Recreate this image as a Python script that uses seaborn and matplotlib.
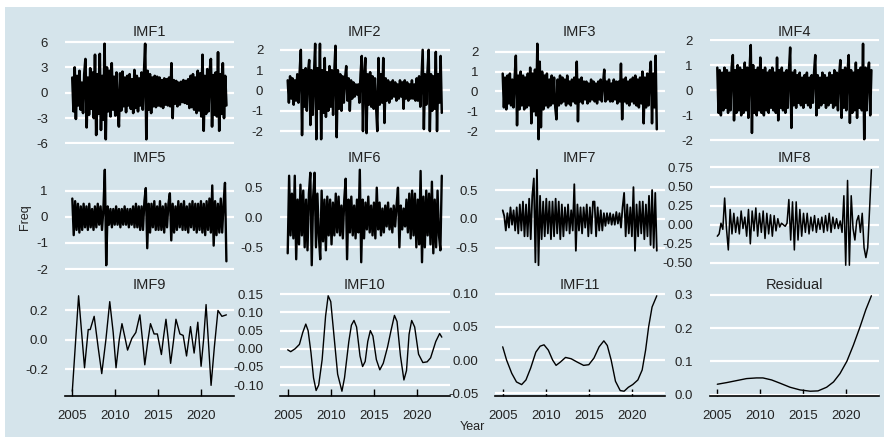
import numpy as np
import pandas as pd
import seaborn as sns
import matplotlib.pyplot as plt
from matplotlib.patches import Rectangle
from matplotlib.ticker import FixedLocator, StrMethodFormatter

import warnings
warnings.filterwarnings('ignore')

sns.set_theme(style="white")
plt.rcParams['font.family'] = ['Liberation Sans', 'DejaVu Sans']
plt.rcParams['axes.unicode_minus'] = False

BG = "#d5e4eb"
START, END = 2005.0, 2022.9

# high frequency components (evenly spaced in time)
imf1 = [1.8, -2.2, 3.0, -3.1, 2.0, -1.5, 2.6, -2.0, 1.2, -2.4,
        2.2, 4.0, -4.1, 1.8, -2.6, 2.9, -1.9, 2.4, -3.0, 4.5,
        -5.0, 2.2, -2.5, 4.6, -4.4, 2.0, -3.2, 5.8, -5.5, 3.0,
        -2.2, 2.6, -2.8, 3.5, -2.0, 1.9, -2.7, 2.4, -1.8, -4.0,
        2.3, -2.1, 2.5, -1.6, 1.8, -2.3, 2.0, -1.5, 2.2, -1.9,
        1.6, -2.4, 2.7, -1.8, 2.0, -2.2, 1.7, -1.5, 2.4, -2.0,
        2.3, 5.8, -5.5, 2.6, -2.0, 2.2, -2.4, 1.8, -1.6, 2.0,
        -1.7, 1.9, -1.5, 1.8, -1.6, 1.5, -1.8, 1.7, -1.4, 1.6,
        -1.5, 1.8, -1.6, 3.5, -3.0, 1.5, -1.3, 1.4, -1.6, 1.2,
        -1.4, 1.3, -1.1, 1.5, -1.2, 1.4, -1.3, 1.6, -1.8, 2.0,
        -1.7, 2.2, -2.0, 1.8, -2.4, 2.6, -2.1, 2.3, -2.8, 4.5,
        -4.5, 2.0, -2.5, 2.8, -2.2, 2.5, 4.0, -4.0, 2.1, -2.6,
        2.4, -2.8, 4.8, -4.5, 2.2, -2.5, 3.5, -3.0, 2.0, -1.5]

imf2 = [0.5, -0.6, 0.7, -0.4, 0.6, -0.7, 0.5, -0.5, 0.8, -0.6,
        0.9, 2.0, -2.2, 1.0, -0.8, 1.1, -1.0, 0.9, 1.5, -1.7,
        1.0, -1.2, 0.8, 2.3, -2.4, 1.1, -0.9, 2.3, -2.4, 1.0,
        -1.1, 1.6, -1.3, 0.9, -1.0, 1.2, -0.8, 1.0, -1.2, 0.9,
        2.2, -2.3, 1.0, -0.9, 0.8, -1.0, 0.7, -0.6, 0.6, 1.2,
        -0.5, 0.6, -1.0, 0.5, -0.4, 0.4, -0.3, 0.3, -0.2, 0.3,
        -0.6, 0.8, 1.7, -2.0, 0.7, 1.6, -2.1, 0.8, -0.7, 0.9,
        -0.8, 0.7, -0.9, 0.6, -0.8, -2.0, 1.6, -0.7, 0.8, -0.6,
        1.6, -1.6, 0.6, -0.5, 0.5, -0.6, 0.4, -0.4, 0.5, -0.3,
        0.4, -0.5, 0.3, -0.4, 0.5, -0.3, 0.4, -0.9, 0.5, -0.4,
        0.4, -0.5, 0.3, -0.4, 0.5, -0.4, 0.3, -0.5, 0.6, -0.5,
        0.7, -0.8, 0.6, 2.0, -1.9, 0.8, -0.7, 0.9, 2.0, -2.0,
        0.8, -1.0, 0.7, -0.9, 1.9, -2.0, 0.8, -0.6, 1.7, -1.1]

imf3 = [0.9, -0.8, 0.7, -0.9, 0.8, -0.6, 0.9, -0.7, 0.6, -0.8,
        0.7, 1.8, -1.7, 0.8, -0.9, 1.0, -0.7, 0.8, -0.9, 0.7,
        -0.8, 0.9, -0.7, 1.2, -1.6, 0.9, -1.0, 1.1, -1.2, 2.4,
        -2.4, 1.5, -1.8, 1.0, -0.9, 0.8, -0.7, 0.9, -0.8, 0.6,
        -0.7, 0.8, -0.6, 0.7, -0.8, -1.4, 0.6, -0.7, 0.8, -0.6,
        0.7, -0.5, 0.6, -0.7, 0.8, -0.6, 0.5, -0.7, 0.6, -0.5,
        0.7, -0.6, 1.5, -1.5, 0.6, -0.5, 0.7, -0.6, 0.5, -0.4,
        0.5, -0.6, 0.4, -0.5, 0.6, -0.4, 0.5, -0.5, 0.4, -0.6,
        0.5, -0.4, 0.6, -0.5, 0.4, 1.1, -0.5, 0.5, -0.4, 0.6,
        -0.5, 0.4, -0.5, 0.6, -0.4, 0.5, -0.6, 0.5, -0.5, 1.4,
        -1.4, 0.6, -0.5, 0.7, -0.6, 0.5, -0.7, 0.6, -0.5, 0.7,
        -0.6, 0.8, -0.7, 0.6, -0.8, 0.7, -0.6, 1.0, -1.6, 0.7,
        -0.8, 0.9, -0.7, 0.8, 1.5, -1.6, 0.9, -0.8, 1.8, -1.9]

imf4 = [0.9, -0.9, 0.8, -1.0, 0.7, -0.8, 0.9, -0.7, 0.8, -0.9,
        0.7, -0.8, 0.9, 1.4, -1.2, 0.8, -0.9, 1.0, -0.8, 0.9,
        -1.0, 0.8, -0.9, 1.1, -0.8, 0.9, -1.1, 0.8, 1.8, -1.7,
        1.0, -0.9, 0.8, -1.0, 0.9, -0.8, 1.3, -0.9, 0.8, -1.0,
        0.9, -0.8, 0.7, -0.9, 0.8, -0.7, 0.9, -0.8, 0.7, -0.9,
        1.3, -1.2, 0.8, -0.7, 0.9, -0.8, 0.7, -0.9, 0.8, -0.7,
        0.8, 1.7, -1.5, 0.7, -0.6, 0.8, -0.7, 0.6, -0.5, 0.7,
        -0.6, 0.5, -0.7, 0.6, -0.5, 0.7, -0.6, 0.5, -0.7, 0.6,
        -0.5, 0.7, 1.4, -1.0, 0.6, -0.7, 0.5, -0.6, 0.7, -0.5,
        0.6, -0.7, 0.5, -0.6, 0.7, -0.5, 0.6, -0.7, 0.8, -0.6,
        0.7, -0.8, 0.6, 1.2, -1.1, 0.8, -0.7, 0.9, -0.8, 0.7,
        1.4, -1.3, 0.8, -0.9, 0.7, -0.8, 1.1, -1.1, 0.8, -0.7,
        0.9, -0.8, 1.85, -1.95, 0.9, -0.8, 0.7, 1.1, -1.0, 0.8]

imf5 = [0.7, -0.7, 0.6, -0.5, 0.5, -0.6, 0.4, -0.5, 0.5, -0.4,
        0.4, -0.5, 0.5, -0.4, 0.3, -0.5, 0.4, -0.4, 0.5, -0.3,
        0.4, -0.5, 0.3, 1.8, -1.85, 0.4, -0.3, 0.3, -0.4, 0.3,
        -0.3, 0.4, -0.3, 0.3, -0.4, 0.3, -0.3, 0.4, -0.3, 0.3,
        -0.4, 0.3, -0.3, 0.4, -0.4, 0.5, -0.4, 0.4, -0.5, 0.4,
        -0.5, 0.6, 1.1, -1.2, 0.5, -0.6, 0.5, -0.4, 0.6, -0.5,
        0.4, -0.5, 0.6, -0.5, 0.4, -0.6, 0.5, -0.4, 0.5, 0.9,
        -0.9, 0.5, -0.6, 0.4, -0.5, 0.6, -0.4, 0.5, -0.5, 0.6,
        -0.5, 0.4, -0.6, 0.5, -0.4, 0.6, -0.5, 0.5, -0.6, 0.5,
        -0.5, 0.6, -0.6, 0.5, -0.7, 0.6, -0.5, 0.7, -0.6, 1.2,
        -1.1, 0.6, -0.7, 0.5, -0.6, 0.7, -0.6, 0.5, 1.3, -1.7]

imf6 = [-0.6, 0.7, -0.3, 0.4, -0.35, 0.7, -0.7, 0.3, -0.45, 0.55,
        -0.3, 0.45, -0.5, 0.3, -0.55, 0.4, 0.75, -0.8, 0.35, 0.75,
        -0.5, 0.4, -0.3, -0.7, 0.45, -0.4, 0.3, -0.55, 0.35, -0.3,
        0.3, -0.45, 0.25, -0.3, 0.4, -0.25, 0.35, -0.3, 0.2, -0.35,
        0.3, 0.65, -0.7, 0.3, -0.25, 0.35, -0.3, 0.2, -0.35, 0.3,
        -0.25, 0.8, -0.75, 0.3, -0.35, 0.25, -0.2, 0.35, -0.25, 0.2,
        -0.3, 0.25, -0.35, 0.5, -0.2, 0.25, -0.3, 0.15, -0.25, 0.2,
        -0.15, 0.25, -0.2, 0.15, -0.25, 0.2, -0.15, 0.2, 0.5, -0.5,
        0.2, -0.2, 0.15, -0.15, 0.3, -0.25, 0.4, -0.35, 0.45, -0.3,
        0.4, -0.5, 0.3, -0.45, 0.78, -0.75, 0.35, -0.5, 0.45, -0.3,
        0.4, -0.45, 0.6, -0.6, 0.3, -0.5, 0.45, -0.3, -0.55, 0.7]

imf7 = [0.15, 0.05, -0.2, 0.1, -0.15, 0.2, -0.1, 0.15, -0.2, 0.2,
        -0.25, 0.25, -0.2, 0.3, -0.3, 0.25, -0.3, 0.35, -0.35, 0.4,
        0.7, -0.75, 0.85, -0.8, 0.4, -0.35, 0.3, -0.3, 0.35, -0.25,
        0.3, -0.35, 0.3, -0.3, 0.35, -0.25, 0.3, -0.35, 0.25, -0.3,
        0.2, -0.2, 0.25, -0.25, 0.15, -0.2, 0.6, -0.55, 0.25, -0.2,
        0.2, -0.25, 0.2, -0.15, 0.25, -0.3, 0.2, -0.25, 0.3, 0.3,
        -0.3, 0.2, -0.2, 0.15, -0.2, 0.1, -0.12, 0.1, -0.08, 0.1,
        -0.1, 0.08, -0.1, 0.12, -0.08, 0.1, -0.15, 0.2, 0.45, -0.3,
        0.25, -0.25, 0.2, -0.3, 0.55, -0.55, 0.25, -0.3, 0.3, -0.25,
        0.3, -0.35, 0.25, -0.3, 0.4, -0.45, 0.5, -0.5, 0.45, -0.55]

imf8 = [-0.15, -0.12, 0.02, -0.06, 0.35, -0.05, -0.33, 0.2, -0.12, 0.15,
        -0.1, 0.1, -0.12, 0.18, -0.05, 0.1, -0.15, 0.2, -0.25, 0.18,
        -0.08, 0.22, -0.15, 0.15, -0.1, 0.18, -0.18, 0.15, -0.12, 0.13,
        -0.15, 0.12, -0.08, 0.08, -0.03, 0.02, 0.0, -0.02, 0.02, 0.33,
        -0.2, 0.3, -0.33, 0.3, -0.2, 0.2, -0.15, 0.15, -0.1, 0.15,
        -0.12, 0.1, -0.08, 0.12, -0.1, 0.08, -0.06, 0.1, -0.1, 0.12,
        -0.08, 0.15, -0.1, 0.1, -0.05, 0.08, -0.05, 0.05, -0.1, 0.38,
        -0.53, 0.58, -0.53, 0.38, -0.05, -0.2, 0.05, 0.12, -0.1, 0.15,
        -0.3, -0.43, -0.3, 0.2, 0.72]

# low frequency components (year, value)
imf9_year = [2005.0, 2005.73, 2006.42, 2006.85, 2007.08, 2007.54, 2008.0, 2008.42, 2008.9,
             2009.35, 2009.75, 2010.08, 2010.45, 2010.77, 2011.1, 2011.42, 2011.92, 2012.38,
             2012.85, 2013.15, 2013.42, 2013.75, 2014.08, 2014.5, 2014.88, 2015.35, 2015.6,
             2015.88, 2016.15, 2016.42, 2016.75, 2017.04, 2017.5, 2017.88, 2018.27, 2018.73,
             2019.15, 2019.58, 2019.96, 2020.25, 2020.54, 2020.85, 2021.12, 2021.5, 2021.92,
             2022.38, 2022.9]
imf9_val = [-0.35, 0.30, -0.19, 0.07, 0.07, 0.16, -0.05, -0.23, 0.0,
            0.26, 0.05, -0.19, 0.0, 0.11, 0.02, -0.07, 0.01, 0.05,
            0.17, 0.0, -0.17, -0.02, 0.11, 0.04, 0.04, -0.10, 0.02,
            0.14, 0.0, -0.16, -0.01, 0.14, 0.04, 0.03, -0.11, 0.09,
            -0.09, 0.12, -0.18, 0.0, 0.24, -0.05, -0.31, -0.05, 0.20,
            0.16, 0.17]

imf10_year = [2005.0, 2005.35, 2005.86, 2006.36, 2006.75, 2007.1, 2007.37, 2007.7, 2008.0,
              2008.3, 2008.6, 2009.0, 2009.4, 2009.7, 2010.0, 2010.4, 2010.8, 2011.3,
              2011.6, 2012.1, 2012.4, 2012.7, 2013.0, 2013.4, 2013.7, 2014.0, 2014.3,
              2014.6, 2014.9, 2015.3, 2015.7, 2016.1, 2016.6, 2017.0, 2017.4, 2017.7,
              2018.1, 2018.5, 2018.8, 2019.1, 2019.4, 2019.75, 2020.2, 2020.7, 2021.2,
              2021.6, 2022.2, 2022.65, 2022.9]
imf10_val = [-0.003, -0.008, 0.0, 0.012, 0.045, 0.068, 0.05, -0.01, -0.08,
             -0.115, -0.1, -0.03, 0.09, 0.146, 0.13, 0.03, -0.07, -0.117,
             -0.08, 0.02, 0.065, 0.078, 0.06, -0.02, -0.049, -0.035, 0.02,
             0.05, 0.035, -0.03, -0.058, -0.04, 0.005, 0.05, 0.092, 0.075,
             -0.02, -0.086, -0.06, 0.04, 0.078, 0.06, -0.015, -0.038, -0.036,
             -0.025, 0.02, 0.042, 0.032]

imf11_year = [2005.0, 2005.45, 2006.05, 2006.6, 2007.2, 2007.7, 2008.25, 2008.85, 2009.35,
              2009.8, 2010.3, 2010.8, 2011.2, 2011.7, 2012.3, 2012.95, 2013.65, 2014.4,
              2015.0, 2015.6, 2016.2, 2016.75, 2017.15, 2017.6, 2018.1, 2018.65, 2019.1,
              2019.6, 2020.1, 2020.7, 2021.2, 2021.6, 2021.95, 2022.35, 2022.9]
imf11_val = [0.02, 0.0, -0.02, -0.033, -0.037, -0.03, -0.012, 0.012, 0.021,
             0.023, 0.015, 0.0, -0.008, -0.003, 0.004, 0.002, -0.003, -0.008,
             -0.007, 0.003, 0.02, 0.029, 0.022, 0.0, -0.032, -0.046, -0.047,
             -0.041, -0.037, -0.03, -0.015, 0.015, 0.05, 0.08, 0.097]

resid_year = [2005.0, 2006.1, 2007.25, 2008.4, 2009.55, 2010.3, 2011.3, 2012.3, 2013.45,
              2014.6, 2015.8, 2016.7, 2017.7, 2018.5, 2019.25, 2020.05, 2020.8, 2021.6,
              2022.25, 2022.9]
resid_val = [0.031, 0.036, 0.042, 0.048, 0.05, 0.05, 0.044, 0.034, 0.022,
             0.014, 0.01, 0.011, 0.022, 0.038, 0.063, 0.1, 0.148, 0.205,
             0.255, 0.297]

names = ["IMF1", "IMF2", "IMF3", "IMF4", "IMF5", "IMF6", "IMF7", "IMF8",
         "IMF9", "IMF10", "IMF11", "Residual"]

frames = []
for name, vals in zip(names[:8], [imf1, imf2, imf3, imf4, imf5, imf6, imf7, imf8]):
    frames.append(pd.DataFrame({"panel": name,
                                "year": np.linspace(START, END, len(vals)),
                                "value": vals}))
for name, yrs, vals in [("IMF9", imf9_year, imf9_val), ("IMF10", imf10_year, imf10_val),
                        ("IMF11", imf11_year, imf11_val), ("Residual", resid_year, resid_val)]:
    frames.append(pd.DataFrame({"panel": name, "year": yrs, "value": vals}))
df = pd.concat(frames, ignore_index=True)

yticks = {
    "IMF1": ([-6, -3, 0, 3, 6], "{x:.0f}"),
    "IMF2": ([-2, -1, 0, 1, 2], "{x:.0f}"),
    "IMF3": ([-2, -1, 0, 1, 2], "{x:.0f}"),
    "IMF4": ([-2, -1, 0, 1, 2], "{x:.0f}"),
    "IMF5": ([-2, -1, 0, 1], "{x:.0f}"),
    "IMF6": ([-0.5, 0, 0.5], "{x:.1f}"),
    "IMF7": ([-0.5, 0, 0.5], "{x:.1f}"),
    "IMF8": ([-0.5, -0.25, 0, 0.25, 0.5, 0.75], "{x:.2f}"),
    "IMF9": ([-0.2, 0, 0.2], "{x:.1f}"),
    "IMF10": ([-0.1, -0.05, 0, 0.05, 0.1, 0.15], "{x:.2f}"),
    "IMF11": ([-0.05, 0, 0.05, 0.1], "{x:.2f}"),
    "Residual": ([0, 0.1, 0.2, 0.3], "{x:.1f}"),
}
# noisy panels get a heavier line so the band reads as solid
line_w = {"IMF1": 1.9, "IMF2": 1.8, "IMF3": 1.8, "IMF4": 1.8, "IMF5": 1.7,
          "IMF6": 1.7, "IMF7": 1.3, "IMF8": 1.1}

W, H = 884, 444
fig = plt.figure(figsize=(W / 100, H / 100), dpi=100)
fig.add_artist(Rectangle((5 / W, 7 / H), 879 / W, 430 / H, transform=fig.transFigure,
                         facecolor=BG, edgecolor="none", zorder=0))

lefts = [64.6, 280, 495, 709.6]
tops = [39, 165, 291]
pw, ph = 169.5, 105
span = END - START
txt = "#222222"

for i, name in enumerate(names):
    r, c = divmod(i, 4)
    ax = fig.add_axes([lefts[c] / W, (H - tops[r] - ph) / H, pw / W, ph / H])
    ax.set_facecolor("none")
    sns.lineplot(data=df[df.panel == name], x="year", y="value", ax=ax,
                 color="black", linewidth=line_w.get(name, 1.0))
    ax.set_xlim(START - 0.05 * span, END + 0.05 * span)
    ax.margins(y=0.05)
    ticks, fmt = yticks[name]
    ax.yaxis.set_major_locator(FixedLocator(ticks))
    ax.yaxis.set_major_formatter(StrMethodFormatter(fmt))
    ax.grid(axis="y", color="white", linewidth=1.6)
    ax.grid(axis="x", visible=False)
    ax.set_axisbelow(True)
    for s in ax.spines.values():
        s.set_visible(False)
    ax.tick_params(axis="y", length=0, pad=12, labelsize=9.5, labelcolor=txt)
    ax.set_xticks([2005, 2010, 2015, 2020])
    if r == 2:
        ax.spines["bottom"].set_visible(True)
        ax.spines["bottom"].set_color("black")
        ax.spines["bottom"].set_linewidth(1.2)
        ax.tick_params(axis="x", direction="in", length=5, width=1, color="black",
                       pad=10, labelsize=9.5, labelcolor=txt, bottom=True)
    else:
        ax.tick_params(axis="x", length=0, labelbottom=False)
    ax.set_xlabel("")
    ax.set_ylabel("")
    ax.set_title(name, fontsize=10.5, pad=1.5, color=txt)

fig.text(472 / W, 1 - 427 / H, "Year", ha="center", va="center", fontsize=9, color=txt)
fig.text(25 / W, 1 - 217 / H, "Freq", ha="center", va="center", rotation=90,
         fontsize=9, color=txt)

fig.savefig("out.png", dpi=100, facecolor="white")
